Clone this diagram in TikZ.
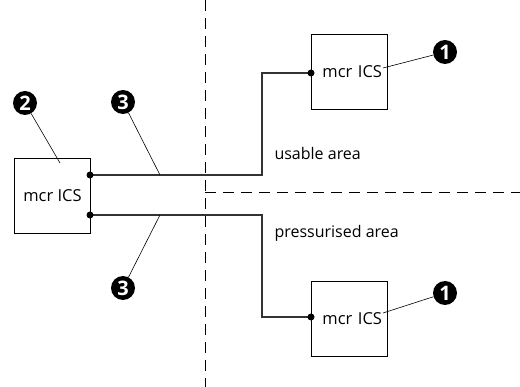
\documentclass[tikz,border=0pt]{standalone}
\usepackage{fontspec}
\setmainfont{Open Sans}
\usetikzlibrary{positioning}
\begin{document}
\begin{tikzpicture}[x=1pt, y=-1pt]
    % Define styles
    \tikzstyle{unit} = [rectangle, draw, line width=0.7pt, minimum width=76pt,
        minimum height=75pt, inner sep=0pt, font=\fontsize{16.5}{19}\selectfont]
    \tikzstyle{marker} = [circle, fill=black, text=white, inner sep=0pt,
        minimum size=24pt, font=\bfseries\fontsize{20}{22}\selectfont]
    \tikzstyle{wire} = [draw, line width=1.8pt, black!80]
    \tikzstyle{leader} = [draw, line width=0.6pt]
    \tikzstyle{boundary} = [draw, line width=0.8pt, dash pattern=on 11pt off 7pt]
    \tikzstyle{area} = [anchor=west, font=\fontsize{16}{19}\selectfont]
    \tikzstyle{joint} = [circle, fill=black, inner sep=0pt, minimum size=7pt]
    \useasboundingbox (0,0) rectangle (520,387);

    % Boundaries
    \draw [boundary] (205,0) -- (205,387);
    \draw [boundary] (205,192) -- (520,192);
    \node [area] (usable) at (271,154) {usable area};
    \node [area] (press) at (271,233) {pressurised area};

    % Define nodes
    \node [unit] (main) at (52.5,195.5) {mcr ICS};
    \node [unit, text width=66pt, align=right] (upper) at (349,72) {mcr ICS};
    \node [unit, text width=66pt, align=right] (lower) at (349,318.5) {mcr ICS};
    \coordinate (outA) at (90,175);
    \coordinate (outB) at (90,215);
    \coordinate (inA) at (311,73);
    \coordinate (inB) at (311,317);

    % Draw wires
    \path [wire] (outA) -| (262,120) |- (inA);
    \path [wire] (outB) -| (262,270) |- (inB);
    \foreach \p in {outA, outB, inA, inB}
        \node [joint] at (\p) {};

    % Markers
    \node [marker] (m1a) at (445,52) {1};
    \node [marker] (m1b) at (445,293) {1};
    \node [marker] (m2) at (25,103) {2};
    \node [marker] (m3a) at (123,102) {3};
    \node [marker] (m3b) at (123,288) {3};
    \coordinate (t1a) at (383,68);
    \coordinate (t1b) at (383,313);
    \coordinate (t2) at (60,163);
    \coordinate (t3a) at (160,175);
    \coordinate (t3b) at (160,215);
    \path [leader] (m1a) -- (t1a);
    \path [leader] (m1b) -- (t1b);
    \path [leader] (m2) -- (t2);
    \path [leader] (m3a) -- (t3a);
    \path [leader] (m3b) -- (t3b);
\end{tikzpicture}
\end{document}
